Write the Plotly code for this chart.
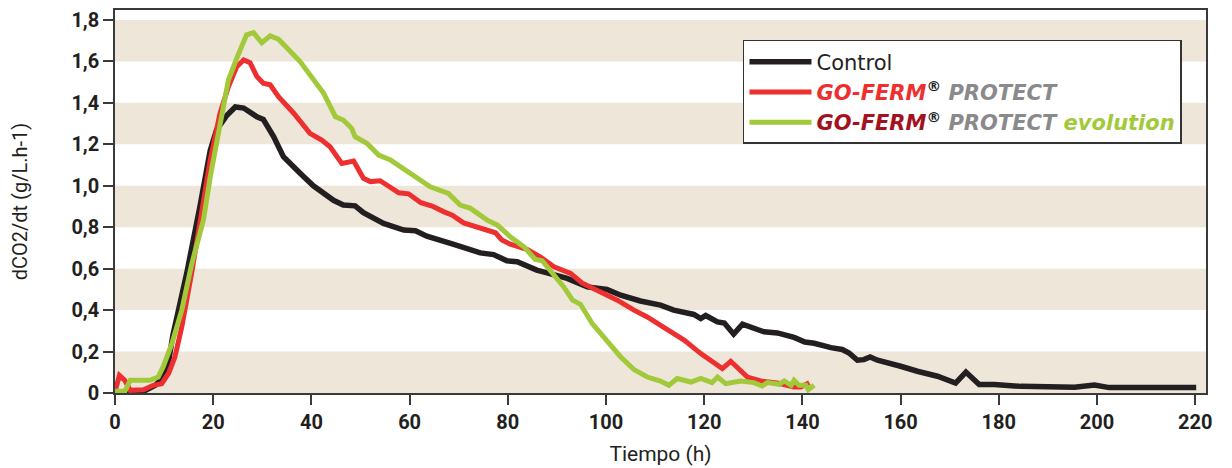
import plotly.graph_objects as go

# ---------------- data ----------------
control_x = [0, 3, 5.8, 8.2, 9.8, 10.9, 11.8, 14.6, 17.3, 19.4, 20.7, 22.8, 24.5, 26.2, 28.9, 30.2,
             32.3, 34.3, 37.7, 40.4, 44.5, 46.5, 48.9, 50.6, 54.7, 58.8, 61.2, 63.5, 69, 74.4,
             77.1, 79.8, 81.9, 85.9, 88.0, 92.1, 96.2, 100.2, 103, 107, 111.1, 113.8, 117.9,
             119.3, 120.3, 122.7, 124.1, 126, 127.8, 129.5, 132.2, 134.9, 138.3, 140.5, 142.4,
             145.8, 148.1, 149.5, 151.2, 152.5, 153.8, 155.3, 157.3, 160, 163.4, 167.5, 171.2,
             173.3, 176, 179.1, 184.5, 189.9, 195.4, 199.5, 202.5, 210.3, 220.2]
control_y = [0.005, 0.003, 0.008, 0.037, 0.075, 0.15, 0.28, 0.577, 0.90, 1.17, 1.27, 1.34, 1.38,
             1.375, 1.333, 1.32, 1.237, 1.14, 1.06, 1.0, 0.93, 0.907, 0.903, 0.87, 0.818, 0.786,
             0.783, 0.757, 0.717, 0.676, 0.668, 0.638, 0.633, 0.593, 0.58, 0.553, 0.512, 0.5,
             0.472, 0.444, 0.424, 0.40, 0.379, 0.359, 0.374, 0.343, 0.338, 0.284, 0.332, 0.319,
             0.295, 0.29, 0.268, 0.246, 0.24, 0.219, 0.21, 0.193, 0.158, 0.161, 0.174, 0.158,
             0.148, 0.129, 0.105, 0.081, 0.048, 0.101, 0.041, 0.041, 0.032, 0.029, 0.028, 0.039,
             0.026, 0.026, 0.026]

protect_x = [0, 0.9, 2, 3.1, 5.8, 7.8, 9.5, 10.9, 12.2, 13.6, 15.6, 17.3, 19.4, 21.4, 23.1, 24.8,
             26.2, 27.5, 28.9, 30.2, 31.6, 33.3, 36.4, 39.7, 42.1, 43.8, 46.2, 48.6, 50.6, 52,
             54, 57.8, 59.8, 62.3, 64.6, 67, 68.7, 71, 74.4, 77.5, 78.8, 80.5, 83.9, 86.6, 89.4,
             92.8, 95.1, 97.5, 99.9, 102.3, 105.7, 108.4, 112.5, 115.9, 119.3, 122, 123.7, 125.4,
             126.7, 128.8, 131.5, 134.9, 138.3, 139.7, 141.4]
protect_y = [0.005, 0.085, 0.061, 0.013, 0.016, 0.037, 0.045, 0.094, 0.174, 0.319, 0.577, 0.834,
             1.124, 1.35, 1.478, 1.575, 1.607, 1.594, 1.527, 1.495, 1.487, 1.43, 1.35, 1.253,
             1.221, 1.188, 1.108, 1.119, 1.036, 1.02, 1.024, 0.966, 0.961, 0.918, 0.902, 0.874,
             0.858, 0.821, 0.794, 0.773, 0.738, 0.718, 0.693, 0.657, 0.609, 0.577, 0.531, 0.504,
             0.472, 0.448, 0.40, 0.367, 0.306, 0.255, 0.19, 0.142, 0.118, 0.153, 0.126, 0.077,
             0.058, 0.048, 0.029, 0.029, 0.05]

evolution_x = [0, 2, 3.1, 7.1, 8.8, 9.8, 11.6, 13.6, 15.6, 18, 19.4, 21.1, 23.1, 24.8, 26.8, 28.2,
               29.9, 31.6, 33.3, 37.7, 42.5, 44.9, 46.5, 48.2, 48.9, 51.3, 53.7, 56.1, 58.5, 60.5,
               62.2, 64.2, 67.9, 70.3, 72.4, 75.8, 77.9, 80.5, 83.3, 85.6, 87, 89.4, 91.4, 93.2,
               94.8, 97.2, 100.2, 103, 105.7, 108.4, 111.1, 112.8, 114.5, 117.3, 119.3, 121.6,
               122.7, 124.4, 127.4, 130.1, 131.8, 132.9, 135.3, 136.3, 137.7, 138.3, 139.3, 140.7,
               141.2, 142.4]
evolution_y = [0.008, 0.008, 0.061, 0.061, 0.077, 0.126, 0.239, 0.40, 0.62, 0.834, 1.043, 1.269,
               1.51, 1.615, 1.728, 1.739, 1.69, 1.723, 1.707, 1.599, 1.446, 1.333, 1.317, 1.277,
               1.237, 1.205, 1.148, 1.124, 1.085, 1.05, 1.028, 0.995, 0.963, 0.907, 0.891, 0.834,
               0.81, 0.754, 0.705, 0.644, 0.638, 0.569, 0.512, 0.448, 0.428, 0.335, 0.255, 0.174,
               0.113, 0.077, 0.058, 0.037, 0.07, 0.053, 0.07, 0.05, 0.077, 0.045, 0.058, 0.05,
               0.034, 0.05, 0.042, 0.058, 0.037, 0.061, 0.037, 0.037, 0.016, 0.037]

y_tick_vals = [0, 0.2, 0.4, 0.6, 0.8, 1.0, 1.2, 1.4, 1.6, 1.8]
y_tick_text = ["0", "0,2", "0,4", "0,6", "0,8", "1,0", "1,2", "1,4", "1,6", "1,8"]
x_tick_vals = [0, 20, 40, 60, 80, 100, 120, 140, 160, 180, 200, 220]

# ---------------- styles ----------------
BLACK = "#231f20"
RED = "#ee2f2f"
GREEN = "#a2c93a"
DARKRED = "#a3121f"
GRAY = "#8a8a8c"
BAND = "#ede6d9"
AXIS = "#3a3a3a"
FONT = "Roboto"
LEGEND_FONT = "DejaVu Sans"

fig = go.Figure()

# alternating background bands built from tick values
shapes = []
for i in range(0, len(y_tick_vals) - 1, 2):
    shapes.append(dict(type="rect", xref="paper", yref="y", x0=0, x1=1,
                       y0=y_tick_vals[i], y1=y_tick_vals[i + 1],
                       fillcolor=BAND, line=dict(width=0), layer="below"))

reg = "<span style='color:%s'><sup>®</sup></span>" % BLACK
name_control = "Control"
name_protect = ("<b><i><span style='color:%s'>GO-FERM</span>%s "
                "<span style='color:%s'>PROTECT</span></i></b>") % (RED, reg, GRAY)
name_evol = ("<b><i><span style='color:%s'>GO-FERM</span>%s "
             "<span style='color:%s'>PROTECT</span> "
             "<span style='color:%s'>evolution</span></i></b>") % (DARKRED, reg, GRAY, GREEN)

fig.add_trace(go.Scatter(x=control_x, y=control_y, mode="lines", name=name_control,
                         line=dict(color=BLACK, width=5.5)))
fig.add_trace(go.Scatter(x=protect_x, y=protect_y, mode="lines", name=name_protect,
                         line=dict(color=RED, width=5)))
fig.add_trace(go.Scatter(x=evolution_x, y=evolution_y, mode="lines", name=name_evol,
                         line=dict(color=GREEN, width=5)))

fig.update_layout(
    width=1224, height=460,
    margin=dict(l=107, r=26, t=2, b=75),
    paper_bgcolor="white", plot_bgcolor="white",
    font=dict(family=FONT, color=BLACK, size=18),
    shapes=shapes,
    showlegend=True,
    legend=dict(x=0.5756, y=0.9217, xanchor="left", yanchor="top",
                bgcolor="white", bordercolor="#333333", borderwidth=1.5,
                font=dict(family=LEGEND_FONT, size=21, color=BLACK),
                itemwidth=62, traceorder="normal"),
    xaxis=dict(range=[0, 222.2], tickvals=x_tick_vals, showgrid=False, zeroline=False,
               automargin=False, ticklabeloverflow="allow",
               showline=True, linecolor=AXIS, linewidth=1.5, mirror=True,
               ticks="outside", ticklen=10, tickcolor=AXIS, tickwidth=1.5,
               tickfont=dict(family=FONT, size=20, color=BLACK, weight="bold"),
               title=dict(text="Tiempo (h)", font=dict(family=FONT, size=21, color=BLACK),
                          standoff=14)),
    yaxis=dict(range=[0, 1.848], tickvals=y_tick_vals, ticktext=y_tick_text,
               showgrid=False, zeroline=False, automargin=False, ticklabeloverflow="allow",
               showline=True, linecolor=AXIS, linewidth=1.5, mirror=True,
               ticks="outside", ticklen=10, tickcolor=AXIS, tickwidth=1.5,
               tickfont=dict(family=FONT, size=20, color=BLACK, weight="bold"),
               title=dict(text="dCO2/dt (g/L.h-1)", font=dict(family=FONT, size=20, color=BLACK),
                          standoff=38)),
)

fig.write_html("out.html")
